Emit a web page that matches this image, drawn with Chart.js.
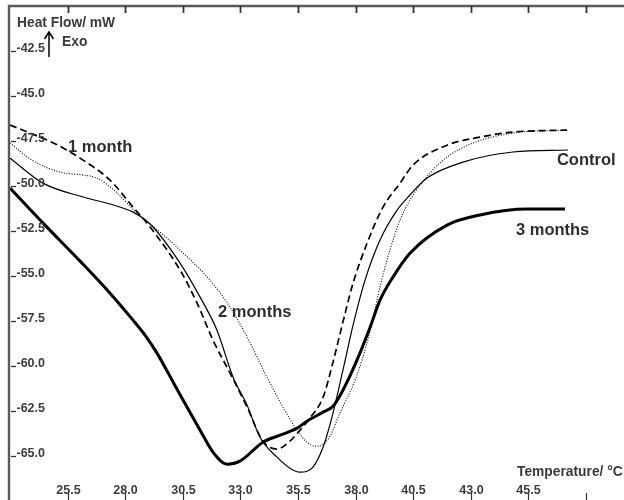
<!DOCTYPE html>
<html>
<head>
<meta charset="utf-8">
<script src="https://cdn.jsdelivr.net/npm/chart.js@4/dist/chart.umd.min.js"></script>
<style>
  html, body { margin: 0; padding: 0; background: #ffffff; }
  canvas { display: block; }
</style>
</head>
<body>
<canvas id="dsc" width="624" height="500"></canvas>
<script>
// DSC heating curves: heat flow (mW) against temperature (°C)
const controlT  = [23.00, 24.43, 26.17, 27.34, 28.34, 29.08, 30.38, 31.25, 31.98, 32.68, 33.29, 33.85, 34.59, 35.15, 35.59, 36.15, 36.59, 37.02, 37.45, 37.89, 38.41, 39.06, 39.80, 40.36, 41.10, 42.66, 44.83, 47.22];
const controlHF = [-48.45, -49.84, -50.61, -51.00, -51.45, -52.11, -54.28, -56.17, -58.00, -60.61, -62.17, -63.95, -65.06, -65.67, -65.89, -65.61, -64.50, -62.61, -60.23, -57.73, -55.23, -53.00, -51.34, -50.50, -49.56, -48.67, -48.11, -48.00];

const oneMonthT  = [23.00, 23.87, 25.08, 26.17, 27.34, 28.34, 29.08, 30.38, 31.12, 31.81, 32.55, 33.29, 33.98, 34.59, 35.15, 35.59, 36.02, 36.59, 37.02, 37.45, 37.89, 38.50, 39.19, 39.93, 40.49, 41.97, 43.40, 44.83, 47.18];
const oneMonthHF = [-46.61, -47.06, -47.73, -48.56, -49.67, -51.17, -52.28, -54.67, -56.50, -58.56, -60.39, -62.28, -64.17, -64.61, -64.17, -63.56, -62.89, -61.73, -59.78, -57.56, -55.39, -53.17, -51.17, -49.84, -48.84, -47.73, -47.28, -47.00, -46.89];

const twoMonthsT  = [23.00, 23.95, 25.17, 26.17, 26.78, 27.56, 28.51, 29.51, 30.38, 31.68, 32.55, 33.29, 34.15, 34.85, 35.46, 35.89, 36.24, 36.54, 36.89, 37.32, 37.89, 38.28, 38.67, 39.06, 39.49, 39.93, 40.36, 41.23, 41.97, 43.10, 44.83, 47.18];
const twoMonthsHF = [-47.61, -48.56, -49.23, -49.39, -49.56, -50.28, -51.50, -52.56, -53.56, -55.23, -56.73, -58.39, -60.61, -62.28, -63.56, -64.23, -64.45, -64.39, -63.89, -62.61, -61.06, -59.67, -57.84, -55.61, -53.56, -51.89, -50.78, -49.28, -48.39, -47.61, -47.06, -46.89];

const threeMonthsT  = [23.00, 24.52, 26.04, 27.34, 28.34, 28.86, 29.38, 29.94, 30.51, 31.25, 31.81, 32.42, 32.98, 33.98, 34.72, 35.46, 35.89, 36.59, 37.02, 37.45, 38.06, 38.63, 39.06, 39.62, 40.36, 41.97, 43.40, 45.44, 47.09];
const threeMonthsHF = [-50.11, -52.17, -54.17, -55.95, -57.45, -58.28, -59.28, -60.56, -61.89, -63.56, -64.78, -65.45, -65.28, -64.23, -63.84, -63.45, -63.06, -62.56, -62.23, -61.34, -59.67, -57.84, -56.34, -55.06, -53.73, -52.17, -51.61, -51.28, -51.28];

// Axis ticks
const xTicks      = [25.5, 28.0, 30.5, 33.0, 35.5, 38.0, 40.5, 43.0, 45.5, 48.0];
const xTickLabels = ['25.5', '28.0', '30.5', '33.0', '35.5', '38.0', '40.5', '43.0', '45.5', ''];
const yTicks      = [-42.5, -45.0, -47.5, -50.0, -52.5, -55.0, -57.5, -60.0, -62.5, -65.0];
const yTickLabels = ['-42.5', '-45.0', '-47.5', '-50.0', '-52.5', '-55.0', '-57.5', '-60.0', '-62.5', '-65.0'];

// Curve names
const seriesNames = ['Control', '1 month', '2 months', '3 months'];

const toPoints = (xs, ys) => xs.map((t, i) => ({ x: t, y: ys[i] }));

const FONT = '"Liberation Sans", Arial, Helvetica, sans-serif';

const decor = {
  id: 'decor',
  beforeDraw(chart) {
    const ctx = chart.ctx;
    ctx.save();
    ctx.fillStyle = '#ffffff';
    ctx.fillRect(0, 0, chart.width, chart.height);
    ctx.restore();
  },
  afterDatasetsDraw(chart) {
    const { ctx, chartArea: a, scales: { x, y } } = chart;
    ctx.save();

    // frame: top and left edges
    ctx.strokeStyle = '#5a5a5a';
    ctx.lineWidth = 2.4;
    ctx.beginPath();
    ctx.moveTo(a.left - 1, a.bottom);
    ctx.lineTo(a.left - 1, a.top);
    ctx.lineTo(a.right, a.top);
    ctx.stroke();

    // x ticks: marks along the top and bottom, labels just above the bottom
    ctx.strokeStyle = '#333333';
    ctx.fillStyle = '#3c3c3c';
    ctx.font = 'bold 12.5px ' + FONT;
    ctx.textAlign = 'center';
    ctx.textBaseline = 'middle';
    xTicks.forEach((t, i) => {
      const px = Math.round(x.getPixelForValue(t)) + 0.5;
      ctx.lineWidth = 1.8;
      ctx.beginPath();
      ctx.moveTo(px, a.top);
      ctx.lineTo(px, a.top + 7);
      ctx.stroke();
      ctx.lineWidth = 1.2;
      ctx.beginPath();
      ctx.moveTo(px, a.bottom - 7);
      ctx.lineTo(px, a.bottom);
      ctx.stroke();
      if (xTickLabels[i]) ctx.fillText(xTickLabels[i], px, a.bottom - 9);
    });

    // y ticks: short marks inside the left edge, labels beside them
    ctx.textAlign = 'left';
    yTicks.forEach((v, i) => {
      const py = Math.round(y.getPixelForValue(v)) + 0.5;
      ctx.lineWidth = 1.3;
      ctx.beginPath();
      ctx.moveTo(a.left + 1, py);
      ctx.lineTo(a.left + 6, py);
      ctx.stroke();
      ctx.fillText(yTickLabels[i], a.left + 6.5, py - 3);
    });

    // axis titles
    ctx.fillStyle = '#3a3a3a';
    ctx.font = 'bold 13.8px ' + FONT;
    ctx.textBaseline = 'middle';
    ctx.fillText('Heat Flow/ mW', 17, 23);
    ctx.fillText('Exo', 62, 42);
    ctx.fillText('Temperature/ °C', 517, 472);

    // exotherm arrow
    ctx.strokeStyle = '#000000';
    ctx.lineWidth = 1.5;
    ctx.beginPath();
    ctx.moveTo(49, 57);
    ctx.lineTo(49, 32);
    ctx.moveTo(44.5, 39);
    ctx.lineTo(49, 32);
    ctx.lineTo(53.5, 39);
    ctx.stroke();

    // curve names
    ctx.fillStyle = '#2e2e2e';
    ctx.font = 'bold 16.5px ' + FONT;
    const namePos = {
      'Control':  [46.74, -48.56],
      '1 month':  [25.52, -47.84],
      '2 months': [32.03, -57.00],
      '3 months': [44.96, -52.45]
    };
    seriesNames.forEach(n => {
      const [t, v] = namePos[n];
      ctx.fillText(n, x.getPixelForValue(t), y.getPixelForValue(v));
    });

    ctx.restore();
  }
};

const lineBase = {
  showLine: true,
  pointRadius: 0,
  pointHoverRadius: 0,
  borderColor: '#000000',
  backgroundColor: '#000000',
  fill: false,
  cubicInterpolationMode: 'monotone'
};

new Chart(document.getElementById('dsc'), {
  type: 'scatter',
  data: {
    datasets: [
      Object.assign({}, lineBase, {
        label: seriesNames[3],
        data: toPoints(threeMonthsT, threeMonthsHF),
        borderWidth: 3
      }),
      Object.assign({}, lineBase, {
        label: seriesNames[0],
        data: toPoints(controlT, controlHF),
        borderWidth: 1.2
      }),
      Object.assign({}, lineBase, {
        label: seriesNames[1],
        data: toPoints(oneMonthT, oneMonthHF),
        borderWidth: 1.7,
        borderDash: [7, 4]
      }),
      Object.assign({}, lineBase, {
        label: seriesNames[2],
        data: toPoints(twoMonthsT, twoMonthsHF),
        borderWidth: 1.1,
        borderDash: [1, 1.6]
      })
    ]
  },
  options: {
    responsive: false,
    animation: false,
    devicePixelRatio: 1,
    layout: { padding: { left: 10, top: 6, right: 0, bottom: 0 } },
    plugins: {
      legend: { display: false },
      tooltip: { enabled: false },
      title: { display: false }
    },
    scales: {
      x: { type: 'linear', min: 23.0, max: 49.65, display: false },
      y: { type: 'linear', min: -67.44, max: -40.0, display: false }
    }
  },
  plugins: [decor]
});
</script>
</body>
</html>
